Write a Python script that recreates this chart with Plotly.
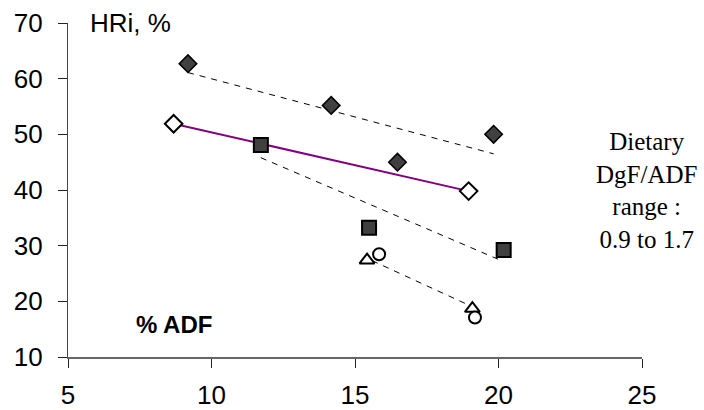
import plotly.graph_objects as go

# ---- data ----
dark_diamond_x = [9.18, 14.17, 16.48, 19.83]
dark_diamond_y = [62.7, 55.2, 45.0, 50.0]

white_diamond_x = [8.68, 18.96]
white_diamond_y = [51.9, 39.8]

dark_square_x = [11.72, 15.49, 20.18]
dark_square_y = [48.1, 33.2, 29.2]

triangle_x = [15.42, 19.09]
triangle_y = [27.4, 18.7]

circle_x = [15.84, 19.18]
circle_y = [28.45, 17.1]

# dashed trend lines (end points)
trend_diamond_x = [9.18, 19.83]
trend_diamond_y = [61.1, 46.5]
trend_square_x = [11.72, 20.15]
trend_square_y = [45.8, 27.2]
trend_tri_x = [15.6, 19.1]
trend_tri_y = [27.3, 19.0]

x_ticks = [5, 10, 15, 20, 25]
y_ticks = [10, 20, 30, 40, 50, 60, 70]

SANS = "Liberation Sans, Arial, sans-serif"
SERIF = "Liberation Serif, Times New Roman, serif"
DARK = "#404040"

fig = go.Figure()

dash_line = dict(color="black", width=1, dash="6px,6px")
for tx, ty in [(trend_diamond_x, trend_diamond_y),
               (trend_square_x, trend_square_y),
               (trend_tri_x, trend_tri_y)]:
    fig.add_trace(go.Scatter(x=tx, y=ty, mode="lines", line=dash_line,
                             hoverinfo="skip", showlegend=False))

fig.add_trace(go.Scatter(x=white_diamond_x, y=white_diamond_y, mode="lines+markers",
                         line=dict(color="#800080", width=2),
                         marker=dict(symbol="diamond", size=13.5, color="white",
                                     line=dict(color="black", width=2)),
                         showlegend=False))
fig.add_trace(go.Scatter(x=dark_diamond_x, y=dark_diamond_y, mode="markers",
                         marker=dict(symbol="diamond", size=13.5, color=DARK,
                                     line=dict(color="black", width=1.5)),
                         showlegend=False))
fig.add_trace(go.Scatter(x=dark_square_x, y=dark_square_y, mode="markers",
                         marker=dict(symbol="square", size=14, color=DARK,
                                     line=dict(color="black", width=2)),
                         showlegend=False))
fig.add_trace(go.Scatter(x=triangle_x, y=triangle_y, mode="markers",
                         marker=dict(symbol="triangle-up", size=13, color="white",
                                     line=dict(color="black", width=2)),
                         showlegend=False))
fig.add_trace(go.Scatter(x=circle_x, y=circle_y, mode="markers",
                         marker=dict(symbol="circle", size=12, color="white",
                                     line=dict(color="black", width=2)),
                         showlegend=False))

fig.add_annotation(x=5.71, y=70, xref="x", yref="y", text="HRi, %",
                   showarrow=False, xanchor="left", yanchor="middle",
                   font=dict(family=SANS, size=26, color="black"))
fig.add_annotation(x=8.68, y=15.9, xref="x", yref="y", text="<b>% ADF</b>",
                   showarrow=False, xanchor="center", yanchor="middle",
                   font=dict(family=SANS, size=24, color="black"))
fig.add_annotation(x=1.0087, y=0.498, xref="paper", yref="paper",
                   text="Dietary<br>DgF/ADF<br>range :<br>0.9 to 1.7",
                   showarrow=False, xanchor="center", yanchor="middle", align="center",
                   font=dict(family=SERIF, size=25, color="black"))

fig.update_xaxes(range=[5, 25], tickvals=x_ticks, ticks="outside", ticklen=9,
                 tickcolor="#222", showline=True, linecolor="#666", linewidth=1.8,
                 showgrid=False, zeroline=False, ticklabelstandoff=5, automargin=False,
                 tickfont=dict(family=SANS, size=26, color="black"))
fig.update_yaxes(range=[10, 70], tickvals=y_ticks, ticks="outside", ticklen=9,
                 tickcolor="#222", showline=True, linecolor="#444", linewidth=1.2,
                 showgrid=False, zeroline=False, ticklabelstandoff=10, automargin=False,
                 tickfont=dict(family=SANS, size=26, color="black"))

fig.update_layout(width=704, height=410, margin=dict(l=68, r=62, t=23, b=53),
                  plot_bgcolor="white", paper_bgcolor="white")

fig.write_html("out.html")
